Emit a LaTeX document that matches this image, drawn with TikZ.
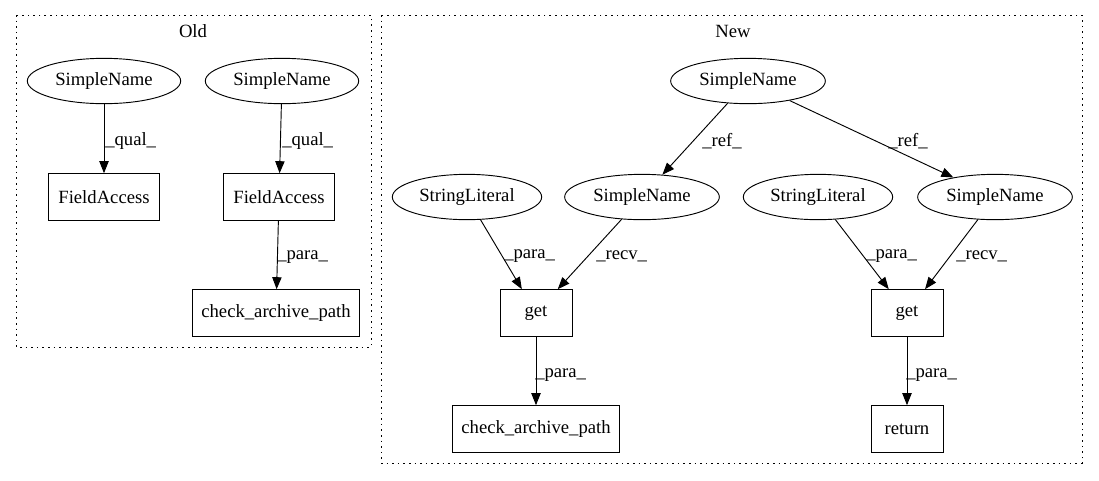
\documentclass[tikz,border=0pt]{standalone}
\usepackage{fontspec}
\setmainfont{Liberation Serif}
\usetikzlibrary{arrows.meta,shapes.geometric}
\begin{document}
\begin{tikzpicture}[x=0.75pt,y=-0.75pt,
  every node/.style={font=\fontsize{14pt}{16pt}\selectfont},
  ell/.style={draw,ellipse,line width=0.7pt,minimum width=115pt,minimum height=34pt,inner sep=0pt},
  box/.style={draw,rectangle,line width=0.7pt,minimum height=35pt,inner sep=0pt},
  edge/.style={line width=0.7pt,-{Triangle[length=9pt,width=7pt]}},
  lab/.style={anchor=west,inner sep=0pt},
  cluster/.style={line width=0.7pt,dash pattern=on 1.2pt off 3pt}]
\useasboundingbox (0,0) rectangle (1099,480);
% clusters
\draw[cluster] (16,15) rectangle (371,347);
\node (oldt) at (193,31) {Old};
\draw[cluster] (381,15) rectangle (1082,463);
\node (newt) at (733,31) {New};
% Old nodes
\node[ell] (s1) at (104,81) {SimpleName};
\node[ell] (s2) at (282,81) {SimpleName};
\node[box,minimum width=83pt] (f1) at (104,197) {FieldAccess};
\node[box,minimum width=83pt] (f2) at (279,197) {FieldAccess};
\node[box,minimum width=125pt] (c1) at (276,313) {check\_archive\_path};
\draw[edge] (s1) -- (f1);
\draw[edge] (s2) -- (f2);
\draw[edge] (f2) -- (c1);
\node[lab] (l1) at (105,141) {\_qual\_};
\node[lab] (l2) at (282,141) {\_qual\_};
\node[lab] (l3) at (277,257) {\_para\_};
% New nodes
\node[ell,minimum width=116pt] (n0) at (748,81) {SimpleName};
\node[ell,minimum width=112pt] (sl1) at (467,197) {StringLiteral};
\node[ell,minimum width=116pt] (sn1) at (642,197) {SimpleName};
\node[ell,minimum width=112pt] (sl2) at (818,197) {StringLiteral};
\node[ell,minimum width=116pt] (sn2) at (995,197) {SimpleName};
\node[box,minimum width=54pt] (g1) at (536,313) {get};
\node[box,minimum width=54pt] (g2) at (907,313) {get};
\node[box,minimum width=125pt] (cap) at (536,429) {check\_archive\_path};
\node[box,minimum width=54pt] (ret) at (907,429) {return};
\draw[edge] (n0) -- (sn1);
\draw[edge] (n0) -- (sn2);
\draw[edge] (sl1) -- (g1);
\draw[edge] (sn1) -- (g1);
\draw[edge] (sl2) -- (g2);
\draw[edge] (sn2) -- (g2);
\draw[edge] (g1) -- (cap);
\draw[edge] (g2) -- (ret);
\node[lab] (r1) at (702,141) {\_ref\_};
\node[lab] (r2) at (888,141) {\_ref\_};
\node[lab] (p1) at (504,256) {\_para\_};
\node[lab] (v1) at (596,256) {\_recv\_};
\node[lab] (p2) at (866,256) {\_para\_};
\node[lab] (v2) at (956,256) {\_recv\_};
\node[lab] (p3) at (535,375) {\_para\_};
\node[lab] (p4) at (906,375) {\_para\_};
\end{tikzpicture}
\end{document}
